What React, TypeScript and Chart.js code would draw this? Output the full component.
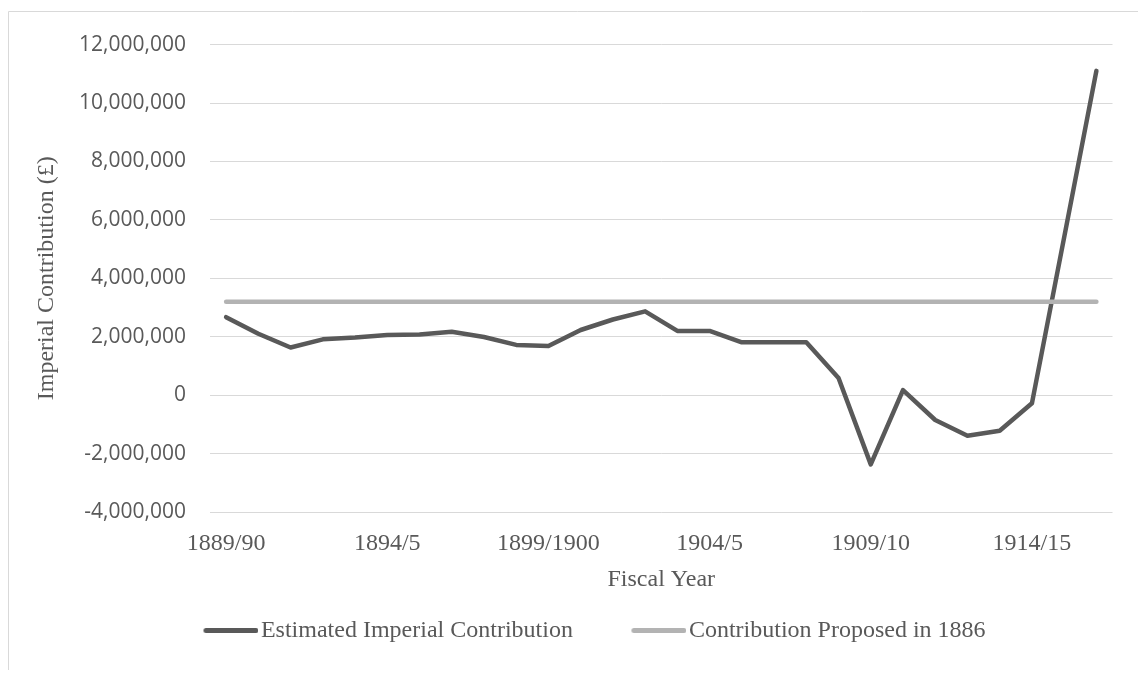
import React, { useEffect, useRef } from 'react';
import { Chart, registerables } from 'chart.js';

Chart.register(...registerables);

const categories = [
  '1889/90', '1890/1', '1891/2', '1892/3', '1893/4', '1894/5', '1895/6', '1896/7',
  '1897/8', '1898/9', '1899/1900', '1900/1', '1901/2', '1902/3', '1903/4', '1904/5',
  '1905/6', '1906/7', '1907/8', '1908/9', '1909/10', '1910/11', '1911/12', '1912/13',
  '1913/14', '1914/15', '1915/16', '1916/17',
];

const estimatedContribution = [
  2670000, 2100000, 1630000, 1910000, 1970000, 2060000, 2080000, 2170000,
  1990000, 1720000, 1680000, 2230000, 2590000, 2870000, 2200000, 2200000,
  1810000, 1810000, 1810000, 590000, -2370000, 170000, -850000, -1390000,
  -1220000, -280000, 5400000, 11100000,
];

const proposed1886 = [
  3200000, 3200000, 3200000, 3200000, 3200000, 3200000, 3200000, 3200000,
  3200000, 3200000, 3200000, 3200000, 3200000, 3200000, 3200000, 3200000,
  3200000, 3200000, 3200000, 3200000, 3200000, 3200000, 3200000, 3200000,
  3200000, 3200000, 3200000, 3200000,
];

const shownTickLabels = ['1889/90', '1894/5', '1899/1900', '1904/5', '1909/10', '1914/15'];

const seriesNames = ['Estimated Imperial Contribution', 'Contribution Proposed in 1886'];
const seriesColors = ['#595959', '#b3b3b3'];

const yMin = -4000000;
const yMax = 12000000;
const yStep = 2000000;

const SERIF = "'Liberation Serif', 'Times New Roman', serif";
const SANS = "'Open Sans', 'Liberation Sans', sans-serif";
const TEXT = '#595959';
const SERIF_SIZE = 24;

function makeLegendLine(color: string): HTMLCanvasElement {
  const c = document.createElement('canvas');
  c.width = 113;
  c.height = 7;
  const ctx = c.getContext('2d')!;
  ctx.strokeStyle = color;
  ctx.lineWidth = 5;
  ctx.lineCap = 'round';
  ctx.beginPath();
  ctx.moveTo(60.5, 3.5);
  ctx.lineTo(110.5, 3.5);
  ctx.stroke();
  return c;
}

const chartBorder = {
  id: 'chartBorder',
  beforeDraw(chart: any) {
    const ctx = chart.ctx;
    ctx.save();
    ctx.strokeStyle = '#d9d9d9';
    ctx.lineWidth = 1;
    ctx.beginPath();
    ctx.moveTo(0.5, chart.height);
    ctx.lineTo(0.5, 3.5);
    ctx.lineTo(chart.width, 3.5);
    ctx.stroke();
    ctx.restore();
  },
};

export default function App() {
  const ref = useRef<HTMLCanvasElement>(null);

  useEffect(() => {
    if (!ref.current) return;
    const legendImages = seriesColors.map((c) => makeLegendLine(c));
    const chart = new Chart(ref.current, {
      type: 'line',
      data: {
        labels: categories,
        datasets: [
          {
            label: seriesNames[0],
            data: estimatedContribution,
            borderColor: seriesColors[0],
            backgroundColor: seriesColors[0],
            borderWidth: 4.5,
            pointRadius: 0,
            pointHoverRadius: 0,
            tension: 0,
            borderCapStyle: 'round',
            borderJoinStyle: 'round',
            order: 2,
          },
          {
            label: seriesNames[1],
            data: proposed1886,
            borderColor: seriesColors[1],
            backgroundColor: seriesColors[1],
            borderWidth: 4.5,
            pointRadius: 0,
            pointHoverRadius: 0,
            tension: 0,
            borderCapStyle: 'round',
            borderJoinStyle: 'round',
            order: 1,
          },
        ],
      },
      options: {
        responsive: false,
        animation: false,
        devicePixelRatio: 1,
        layout: { padding: { left: 20, right: 33.5, top: 32, bottom: 17.5 } },
        plugins: {
          tooltip: { enabled: false },
          legend: {
            position: 'bottom',
            align: 'center',
            labels: {
              usePointStyle: true,
              pointStyleWidth: 94,
              padding: 10,
              color: TEXT,
              font: { family: SERIF, size: SERIF_SIZE },
              sort: (a: any, b: any) => a.datasetIndex - b.datasetIndex,
              generateLabels: (ch: any) => {
                const items = (Chart.defaults as any).plugins.legend.labels.generateLabels(ch);
                return items.map((it: any) => ({ ...it, pointStyle: legendImages[it.datasetIndex] }));
              },
            },
          },
        },
        scales: {
          x: {
            type: 'category',
            offset: true,
            grid: { display: false, drawTicks: false },
            border: { display: false },
            afterFit: (scale: any) => {
              scale.height = 96.5;
            },
            ticks: {
              autoSkip: false,
              maxRotation: 0,
              minRotation: 0,
              padding: 17,
              color: TEXT,
              font: { family: SERIF, size: SERIF_SIZE },
              callback: (_v: any, idx: number) =>
                shownTickLabels.includes(categories[idx]) ? categories[idx] : '',
            },
            title: {
              display: true,
              text: 'Fiscal Year',
              color: TEXT,
              font: { family: SERIF, size: SERIF_SIZE },
              padding: { top: 0, bottom: 14 },
            },
          },
          y: {
            min: yMin,
            max: yMax,
            grid: { color: '#d9d9d9', lineWidth: 1, drawTicks: false },
            border: { display: false },
            afterFit: (scale: any) => {
              scale.width = 182;
            },
            ticks: {
              stepSize: yStep,
              padding: 24,
              color: TEXT,
              font: { family: SANS, size: 21 },
              callback: (v: any) => Number(v).toLocaleString('en-US'),
            },
            title: {
              display: true,
              text: 'Imperial Contribution (£)',
              color: TEXT,
              font: { family: SERIF, size: SERIF_SIZE },
              padding: { top: 4, bottom: 0 },
            },
          },
        },
      },
      plugins: [chartBorder],
    });
    return () => chart.destroy();
  }, []);

  return (
    <div style={{ width: 1138, height: 662 }}>
      <canvas ref={ref} width={1138} height={662} style={{ display: 'block', width: 1138, height: 662 }} />
    </div>
  );
}
